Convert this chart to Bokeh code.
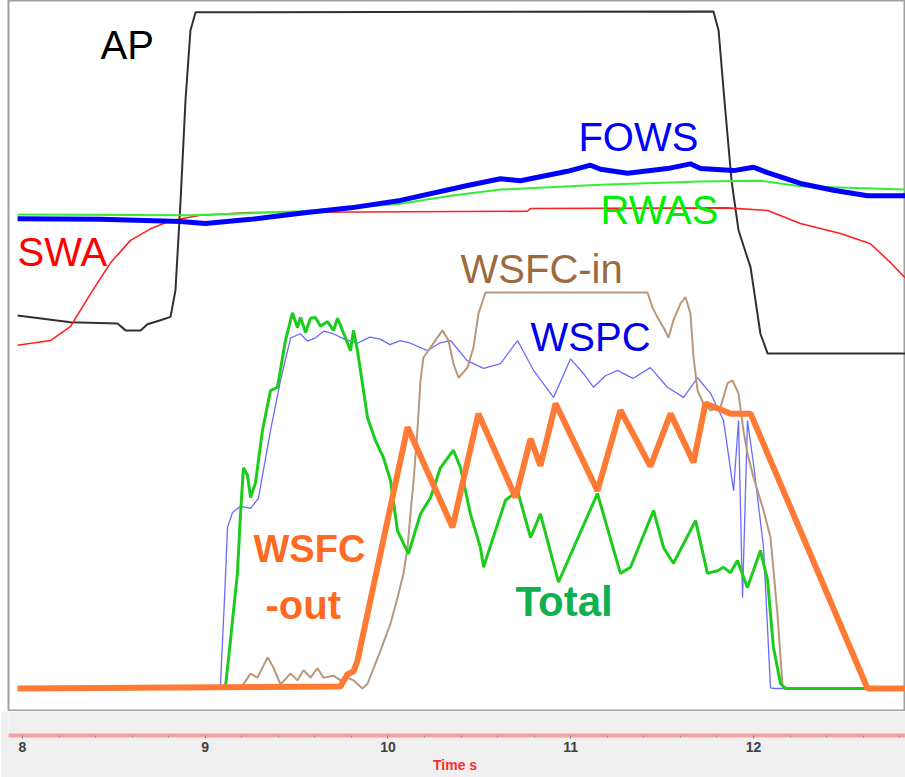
from bokeh.plotting import figure
from bokeh.layouts import column
from bokeh.models import ColumnDataSource, FixedTicker, Range1d
from bokeh.core.properties import value
from bokeh.embed import file_html
from bokeh.resources import INLINE

# ---- data (time in s, signal level in % of full scale) ----
ap_t = [7.973, 8.263, 8.520, 8.564, 8.646, 8.684, 8.755, 8.810, 8.837, 8.865, 8.892, 8.919, 8.947,
        11.781, 11.809, 11.841, 11.880, 11.918, 11.984, 12.038, 12.077, 12.832]
ap_v = [55.1, 54.1, 53.9, 52.9, 52.9, 53.8, 54.4, 54.9, 58.8, 72.1, 86.9, 97.2, 99.9,
        100.0, 97.2, 86.9, 75.0, 67.7, 62.2, 52.4, 49.5, 49.5]

swa_t = [7.973, 8.153, 8.263, 8.372, 8.482, 8.591, 8.700, 8.810, 8.974, 9.248, 10.763, 10.780,
         11.858, 12.077, 12.257, 12.476, 12.640, 12.750, 12.832]
swa_v = [50.7, 51.4, 53.5, 58.3, 62.9, 66.2, 67.9, 69.1, 69.9, 70.3, 70.5, 70.9,
         71.0, 70.6, 68.7, 67.2, 65.7, 62.9, 60.6]

rwas_t = [7.973, 8.919, 9.521, 10.068, 10.342, 10.616, 11.163, 11.710, 12.038, 12.257, 12.832]
rwas_v = [70.0, 69.9, 70.5, 71.6, 72.8, 73.7, 74.4, 74.9, 75.0, 74.2, 73.7]

fows_t = [7.973, 8.427, 8.865, 9.001, 9.248, 9.521, 9.795, 10.068, 10.435, 10.616, 10.725, 10.982,
          11.108, 11.163, 11.311, 11.529, 11.655, 11.710, 11.891, 12.000, 12.077, 12.257, 12.438,
          12.624, 12.832]
fows_v = [69.4, 69.3, 69.0, 68.7, 69.3, 70.2, 71.0, 72.1, 74.3, 75.3, 75.0, 76.4,
          77.3, 76.7, 76.1, 76.8, 77.5, 76.8, 76.5, 77.0, 76.2, 74.6, 73.6,
          72.8, 72.8]

wspc_t = [9.073, 9.083, 9.105, 9.122, 9.149, 9.193, 9.248, 9.291, 9.357, 9.412, 9.467, 9.521,
          9.560, 9.603, 9.650, 9.702, 9.760, 9.833, 9.900, 9.959, 10.010, 10.068, 10.123, 10.216,
          10.280, 10.342, 10.435, 10.523, 10.616, 10.709, 10.796, 10.906, 10.999, 11.070, 11.124,
          11.190, 11.256, 11.340, 11.436, 11.529, 11.617, 11.694, 11.765, 11.836, 11.891, 11.918,
          11.940, 11.967, 12.000, 12.055, 12.093, 12.120, 12.200]
wspc_v = [0.0, 0.4, 13.0, 23.8, 26.0, 26.9, 26.6, 28.1, 38.1, 45.5, 51.8, 52.4,
          51.3, 51.8, 52.8, 52.4, 51.6, 51.0, 51.9, 51.6, 50.8, 51.4, 51.0, 49.9,
          51.0, 51.4, 48.4, 47.3, 48.0, 51.4, 47.0, 43.0, 48.7, 46.5, 44.5,
          46.2, 47.0, 45.8, 47.4, 44.5, 43.0, 45.9, 43.6, 39.6, 29.2, 39.6,
          13.4, 39.6, 33.2, 20.8, 0.1, 0.0, 0.0]

total_t = [9.056, 9.111, 9.138, 9.176, 9.193, 9.209, 9.231, 9.248, 9.275, 9.313, 9.357, 9.395,
           9.439, 9.477, 9.505, 9.521, 9.549, 9.576, 9.603, 9.631, 9.669, 9.702, 9.724, 9.767,
           9.795, 9.811, 9.833, 9.866, 9.888, 9.932, 9.975, 10.014, 10.052, 10.112, 10.134,
           10.178, 10.233, 10.287, 10.358, 10.397, 10.451, 10.506, 10.523, 10.561, 10.643,
           10.709, 10.780, 10.834, 10.933, 11.146, 11.272, 11.327, 11.453, 11.508, 11.562,
           11.683, 11.748, 11.803, 11.836, 11.874, 11.912, 11.967, 12.038, 12.077, 12.109,
           12.148, 12.175, 12.832]
total_v = [0.0, 0.3, 7.1, 17.0, 25.8, 32.6, 31.5, 28.2, 30.4, 38.1, 44.0, 44.5,
           51.4, 55.5, 53.3, 54.8, 52.6, 54.7, 54.8, 53.5, 54.2, 52.9, 54.7, 51.8,
           49.9, 52.9, 49.9, 44.0, 40.0, 36.6, 34.1, 30.7, 23.3, 19.9, 21.9,
           25.8, 28.2, 32.6, 35.2, 32.6, 25.8, 20.8, 17.9, 21.1, 27.8,
           29.2, 22.3, 25.8, 15.7, 28.8, 17.0, 17.9, 26.3, 20.8, 18.5,
           24.8, 17.0, 17.4, 17.9, 17.1, 18.9, 14.9, 20.4, 16.0, 6.1,
           0.7, 0.0, 0.0]

wsfc_in_t = [9.193, 9.248, 9.286, 9.341, 9.373, 9.412, 9.466, 9.505, 9.538, 9.576, 9.614, 9.647,
             9.702, 9.740, 9.778, 9.811, 9.860, 9.888, 9.959, 10.014, 10.052, 10.085, 10.107,
             10.123, 10.140, 10.161, 10.178, 10.194, 10.233, 10.298, 10.331, 10.358, 10.386,
             10.435, 10.468, 10.495, 10.534, 11.420, 11.447, 11.475, 11.508, 11.535, 11.562,
             11.601, 11.628, 11.655, 11.672, 11.694, 11.726, 11.765, 11.819, 11.858, 11.885,
             11.918, 11.945, 11.967, 12.000, 12.055, 12.093, 12.131, 12.159, 12.186]
wsfc_in_v = [0.0, 2.2, 1.6, 4.6, 3.1, 0.6, 2.2, 1.2, 2.7, 1.6, 3.0, 1.6,
             1.9, 1.2, 1.6, 1.2, 0.0, 0.7, 5.6, 9.6, 13.4, 17.0, 20.8,
             25.8, 30.7, 38.1, 45.5, 48.9, 50.4, 52.9, 51.4, 48.0, 45.9,
             47.4, 50.4, 55.4, 58.5, 58.5, 56.3, 54.8, 53.3, 51.8, 54.4,
             56.9, 57.8, 55.4, 48.9, 44.0, 42.1, 41.1, 41.5, 45.1, 45.5,
             43.6, 38.1, 34.7, 31.2, 26.3, 22.3, 11.1, 0.4, 0.0]

wsfc_out_t = [7.973, 9.740, 9.778, 9.811, 9.833, 10.107, 10.353, 10.495, 10.698, 10.780, 10.834,
              10.917, 11.146, 11.272, 11.436, 11.546, 11.672, 11.737, 11.803, 11.874, 11.984,
              12.624, 12.832]
wsfc_out_v = [0.0, 0.3, 2.1, 2.5, 4.1, 38.6, 23.8, 40.6, 28.2, 36.9, 32.9,
              42.1, 29.2, 41.1, 32.8, 40.6, 33.4, 42.1, 41.4, 40.6, 40.6,
              0.0, 0.0]

# series labels
label_text = ["AP", "FOWS", "RWAS", "SWA", "WSFC-in", "WSPC", "WSFC", "-out", "Total"]
label_t = [8.427, 11.042, 11.163, 7.973, 10.397, 10.780, 9.264, 9.330, 10.698]
label_v = [95.1, 81.5, 70.7, 64.5, 62.0, 51.9, 20.6, 12.3, 12.8]
label_color = ["#000000", "#0000ff", "#00ee00", "#ff0000", "#9c6b3c", "#0000ee",
               "#ff6a20", "#ff6a20", "#10b050"]
label_style = ["normal", "normal", "normal", "normal", "normal", "normal", "bold", "bold", "bold"]
label_size = ["40px", "40px", "40px", "40px", "40px", "40px", "38px", "40px", "42px"]

major_ticks = [8, 9, 10, 11, 12]
minor_ticks = [8.2, 8.4, 8.6, 8.8, 9.2, 9.4, 9.6, 9.8, 10.2, 10.4, 10.6, 10.8,
               11.2, 11.4, 11.6, 11.8, 12.2, 12.4, 12.6, 12.8]

# ---- main panel ----
x_range = Range1d(7.9234, 12.8318)
p = figure(width=905, height=711, x_range=x_range, y_range=Range1d(-3.40, 101.63),
           output_backend="svg", toolbar_location=None,
           x_axis_location=None, y_axis_location=None,
           min_border_left=8, min_border_right=0, min_border_top=0, min_border_bottom=0)
p.border_fill_color = "#ffffff"
p.background_fill_color = "#ffffff"
p.outline_line_color = "#a0a0a0"
p.outline_line_width = 2
p.grid.visible = False

p.line(ap_t, ap_v, line_color="#303030", line_width=2)
p.line(swa_t, swa_v, line_color="#ff2020", line_width=1.6)
p.line(rwas_t, rwas_v, line_color="#33ee33", line_width=2)
p.line(fows_t, fows_v, line_color="#0000ff", line_width=5)
p.line(wspc_t, wspc_v, line_color="#6a6aff", line_width=1.3)
p.line(wsfc_in_t, wsfc_in_v, line_color="#b8977a", line_width=2)
p.line(total_t, total_v, line_color="#1ccc1c", line_width=3)
p.line(wsfc_out_t, wsfc_out_v, line_color="#ff7a35", line_width=6)

lab = ColumnDataSource(dict(x=label_t, y=label_v, text=label_text, color=label_color,
                            style=label_style, size=label_size))
p.text(x="x", y="y", text="text", source=lab, text_color="color", text_font_style="style",
       text_font=value("Liberation Sans"), text_font_size="size",
       text_align="left", text_baseline="alphabetic")

# ---- time axis panel ----
p2 = figure(width=905, height=66, x_range=x_range, y_range=Range1d(0, 1),
            output_backend="svg", toolbar_location=None, y_axis_location=None,
            min_border_left=8, min_border_right=0, min_border_top=0, min_border_bottom=42)
p2.background_fill_color = "#f0f0f0"
p2.border_fill_color = "#f0f0f0"
p2.outline_line_color = None
p2.grid.visible = False
ax = p2.xaxis[0]
ax.ticker = FixedTicker(ticks=major_ticks, minor_ticks=minor_ticks)
ax.axis_label = "Time  s"
ax.axis_line_color = "#f4a2a2"
ax.axis_line_width = 4
ax.major_tick_line_color = "#808080"
ax.major_tick_in = 0
ax.major_tick_out = 3
ax.minor_tick_line_color = "#909090"
ax.minor_tick_in = 0
ax.minor_tick_out = 2
ax.major_label_standoff = 3
ax.major_label_text_font = "Liberation Sans"
ax.major_label_text_font_size = "14px"
ax.major_label_text_font_style = "bold"
ax.major_label_text_color = "#404040"
ax.axis_label_standoff = 2
ax.axis_label_text_font = "Liberation Sans"
ax.axis_label_text_font_size = "14px"
ax.axis_label_text_font_style = "bold"
ax.axis_label_text_color = "#ff2a2a"

layout = column(p, p2, spacing=0)
open("out.html", "w").write(file_html(layout, INLINE))
